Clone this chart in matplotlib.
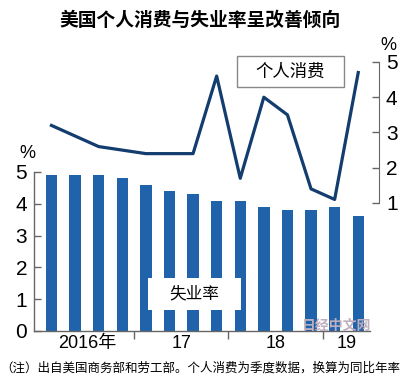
import matplotlib
matplotlib.use("Agg")
import matplotlib.pyplot as plt
from matplotlib.ticker import FixedLocator
from matplotlib.patches import Rectangle

plt.rcParams['font.family'] = ['Liberation Sans Narrow', 'Liberation Sans', 'Noto Sans CJK SC', 'DejaVu Sans']

# quarterly data, 2016 Q1 .. 2019 Q2
quarters = list(range(14))
unemployment = [4.9, 4.9, 4.9, 4.8, 4.6, 4.4, 4.3, 4.1, 4.1, 3.9, 3.8, 3.8, 3.9, 3.6]
consumption = [3.2, 2.9, 2.6, 2.5, 2.4, 2.4, 2.4, 4.6, 1.7, 4.0, 3.5, 1.4, 1.1, 4.7]
year_labels = ['2016年', '17', '18', '19']
year_pos = [1.5, 5.5, 9.5, 12.5]
year_sep = [3.5, 7.5, 11.5]

bar_color = '#2163ab'
line_color = '#123d6e'
axis_color = '#666666'
cjk = ['Noto Sans CJK SC', 'DejaVu Sans']
W, H = 400, 383


def px_box(x0, y0, x1, y1, **kw):
    # rectangle in figure pixel coords (y from top)
    r = Rectangle((x0 / W, 1 - y1 / H), (x1 - x0) / W, (y1 - y0) / H,
                  transform=fig.transFigure, zorder=4, **kw)
    fig.patches.append(r)


fig = plt.figure(figsize=(4.0, 3.83), dpi=100)
ax = fig.add_axes([0.085, 0.1358, 0.8625, 0.7337])
ax.bar(quarters, unemployment, width=0.48, color=bar_color, zorder=2)
ax.set_xlim(-0.74, 13.88)
ax.set_ylim(0, 8.836)

for s in ['top', 'right']:
    ax.spines[s].set_visible(False)
ax.spines['left'].set_bounds(0, 5)
ax.spines['bottom'].set_bounds(-0.74, 13.5)
for s in ['left', 'bottom']:
    ax.spines[s].set_color(axis_color)
    ax.spines[s].set_linewidth(1.0)

ax.set_yticks([0, 1, 2, 3, 4, 5])
ax.tick_params(axis='y', direction='in', length=5, width=1, color=axis_color,
               labelsize=15, pad=5)
ax.xaxis.set_major_locator(FixedLocator(year_pos))
ax.set_xticklabels(year_labels)
ax.xaxis.set_minor_locator(FixedLocator(year_sep))
ax.tick_params(axis='x', which='major', length=0, labelsize=13, pad=3)
ax.tick_params(axis='x', which='minor', direction='out', length=6, width=1, color=axis_color)

ax2 = ax.twinx()
ax2.plot(quarters, consumption, color=line_color, linewidth=2.3, zorder=3)
ax2.set_ylim(-2.631, 5.34)
for s in ['top', 'left', 'bottom']:
    ax2.spines[s].set_visible(False)
ax2.spines['right'].set_bounds(1, 5)
ax2.spines['right'].set_color(axis_color)
ax2.set_yticks([1, 2, 3, 4, 5])
ax2.tick_params(axis='y', direction='in', length=5, width=1, color=axis_color,
                labelsize=15, pad=5)

# labels
fig.text(0.5, 0.947, '美国个人消费与失业率呈改善倾向', ha='center', va='center',
         fontsize=13.5, fontweight='bold', family=cjk)
fig.text(27 / W, 1 - 153 / H, '%', ha='center', va='center', fontsize=13)
fig.text(388 / W, 1 - 45 / H, '%', ha='center', va='center', fontsize=13)

px_box(237, 56, 344, 87, facecolor='white', edgecolor='#888888', linewidth=1)
fig.text(290 / W, 1 - 71.5 / H, '个人消费', ha='center', va='center', fontsize=12.5,
         family=cjk, zorder=5)
px_box(148, 278, 241, 310, facecolor='white', edgecolor='none')
fig.text(194 / W, 1 - 294 / H, '失业率', ha='center', va='center', fontsize=12,
         family=cjk, zorder=5)

fig.text(337 / W, 1 - 326 / H, '日经中文网', ha='center', va='center', fontsize=10,
         fontweight='bold', family=cjk, color='#bfaebd', zorder=6)
fig.text(0.5, 1 - 368 / H, '（注）出自美国商务部和劳工部。个人消费为季度数据，换算为同比年率',
         ha='center', va='center', fontsize=9, family=cjk)

fig.savefig('out.png', dpi=100)
